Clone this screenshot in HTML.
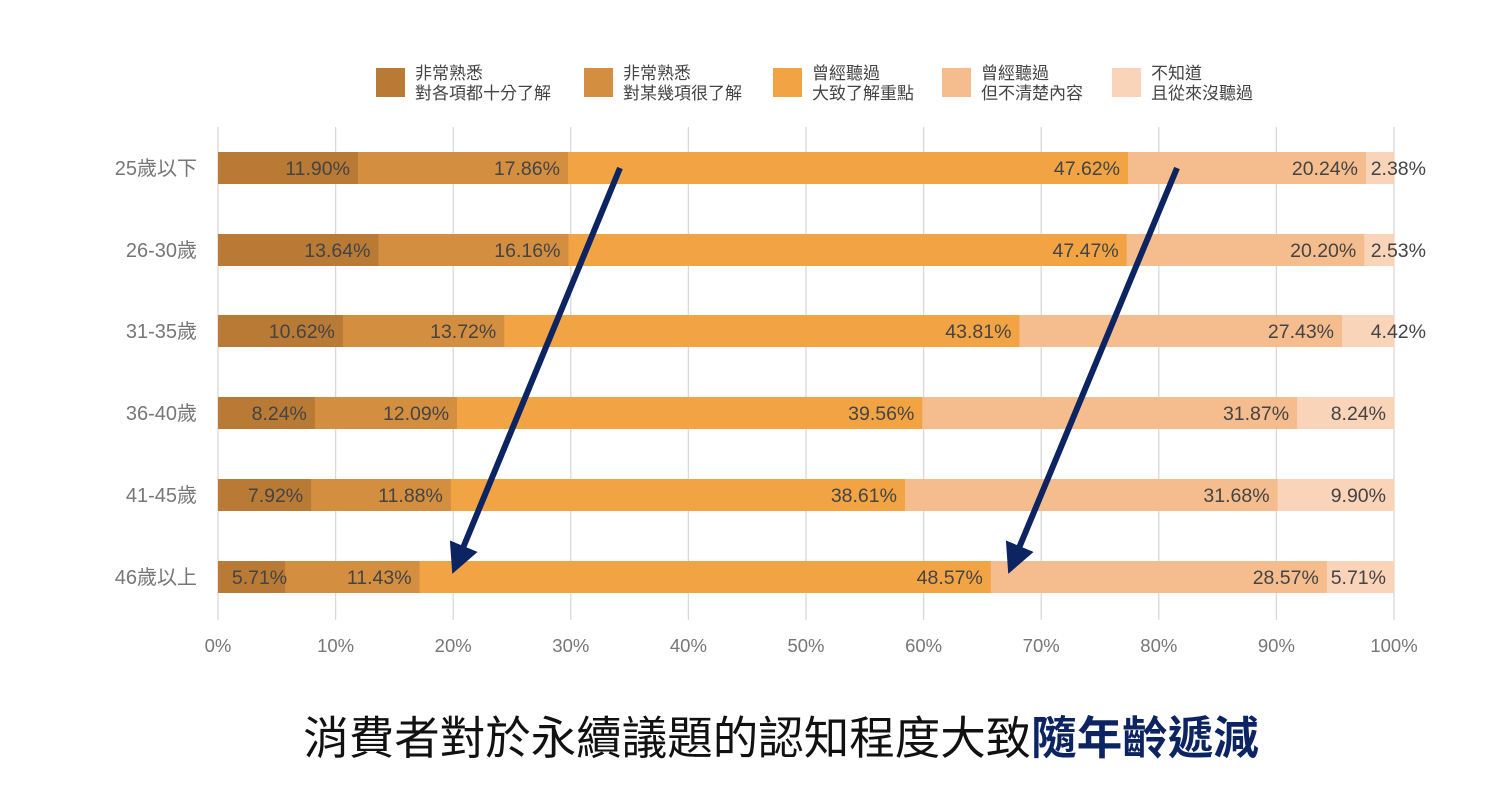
<!DOCTYPE html><html><head><meta charset="utf-8"><style>body{margin:0;background:#fff}svg{display:block}</style></head><body>
<svg width="1499" height="791" xmlns="http://www.w3.org/2000/svg" font-family="Liberation Sans, Noto Sans CJK TC, sans-serif">
<defs><marker id="ah" markerWidth="5" markerHeight="5" refX="2.5" refY="2.5" orient="auto" markerUnits="strokeWidth"><path d="M0,0L5,2.5L0,5z" fill="#0c2461"/></marker></defs>
<g stroke="#d9d9d9" stroke-width="1.3">
<line x1="218" y1="127" x2="218" y2="620"/><line x1="335.6" y1="127" x2="335.6" y2="620"/><line x1="453.2" y1="127" x2="453.2" y2="620"/><line x1="570.8" y1="127" x2="570.8" y2="620"/><line x1="688.4" y1="127" x2="688.4" y2="620"/><line x1="806" y1="127" x2="806" y2="620"/><line x1="923.6" y1="127" x2="923.6" y2="620"/><line x1="1041.2" y1="127" x2="1041.2" y2="620"/><line x1="1158.8" y1="127" x2="1158.8" y2="620"/><line x1="1276.4" y1="127" x2="1276.4" y2="620"/><line x1="1394" y1="127" x2="1394" y2="620"/>
</g>
<g font-size="18.5" fill="#777" text-anchor="middle">
<text x="218" y="652">0%</text><text x="335.6" y="652">10%</text><text x="453.2" y="652">20%</text><text x="570.8" y="652">30%</text><text x="688.4" y="652">40%</text><text x="806" y="652">50%</text><text x="923.6" y="652">60%</text><text x="1041.2" y="652">70%</text><text x="1158.8" y="652">80%</text><text x="1276.4" y="652">90%</text><text x="1394" y="652">100%</text>
</g>
<g font-size="20" fill="#777" text-anchor="end">
<text x="197" y="175">25歲以下</text><text x="197" y="257">26-30歲</text><text x="197" y="338">31-35歲</text><text x="197" y="420">36-40歲</text><text x="197" y="502">41-45歲</text><text x="197" y="584">46歲以上</text>
</g>
<g id="bars"></g>
<g id="lbl" font-size="19.5" fill="#444" text-anchor="end"></g>
<g font-size="17" fill="#444">
<rect x="376" y="68" width="29" height="29" fill="#b87a35"/><text x="415" y="79">非常熟悉</text><text x="415" y="99">對各項都十分了解</text>
<rect x="584" y="68" width="29" height="29" fill="#d48e40"/><text x="623" y="79">非常熟悉</text><text x="623" y="99">對某幾項很了解</text>
<rect x="773" y="68" width="29" height="29" fill="#f2a445"/><text x="812" y="79">曾經聽過</text><text x="812" y="99">大致了解重點</text>
<rect x="942" y="68" width="29" height="29" fill="#f5bc8e"/><text x="981" y="79">曾經聽過</text><text x="981" y="99">但不清楚內容</text>
<rect x="1112" y="68" width="29" height="29" fill="#f9d4b8"/><text x="1151" y="79">不知道</text><text x="1151" y="99">且從來沒聽過</text>
</g>
<g stroke="#0c2461" stroke-width="6" marker-end="url(#ah)">
<line x1="620" y1="168" x2="458" y2="560"/><line x1="1177" y1="168" x2="1014" y2="560"/>
</g>
<text x="781" y="754" font-size="45.5" text-anchor="middle" fill="#111">消費者對於永續議題的認知程度大致<tspan fill="#0c2461" font-weight="bold">隨年齡遞減</tspan></text>
<script>
var d=[[11.90,17.86,47.62,20.24,2.38],[13.64,16.16,47.47,20.20,2.53],[10.62,13.72,43.81,27.43,4.42],[8.24,12.09,39.56,31.87,8.24],[7.92,11.88,38.61,31.68,9.90],[5.71,11.43,48.57,28.57,5.71]];
var c=["#b87a35","#d48e40","#f2a445","#f5bc8e","#f9d4b8"],cy=[168,250,331,413,495,577],ns="http://www.w3.org/2000/svg";
var B=document.getElementById("bars"),L=document.getElementById("lbl");
d.forEach(function(r,i){var s=r.reduce(function(a,b){return a+b}),x=218;r.forEach(function(v,j){var w=v/s*1176;var e=document.createElementNS(ns,"rect");e.setAttribute("x",x);e.setAttribute("y",cy[i]-16);e.setAttribute("width",w+0.5);e.setAttribute("height",32);e.setAttribute("fill",c[j]);B.appendChild(e);
var t=document.createElementNS(ns,"text");var tx=x+w-8;if(j==4&&w<60)tx=1426;if(i==5&&j==0)tx=x+w+2;t.setAttribute("x",tx);t.setAttribute("y",cy[i]+7);t.textContent=v.toFixed(2)+"%";L.appendChild(t);x+=w;});});
</script>
</svg></body></html>
